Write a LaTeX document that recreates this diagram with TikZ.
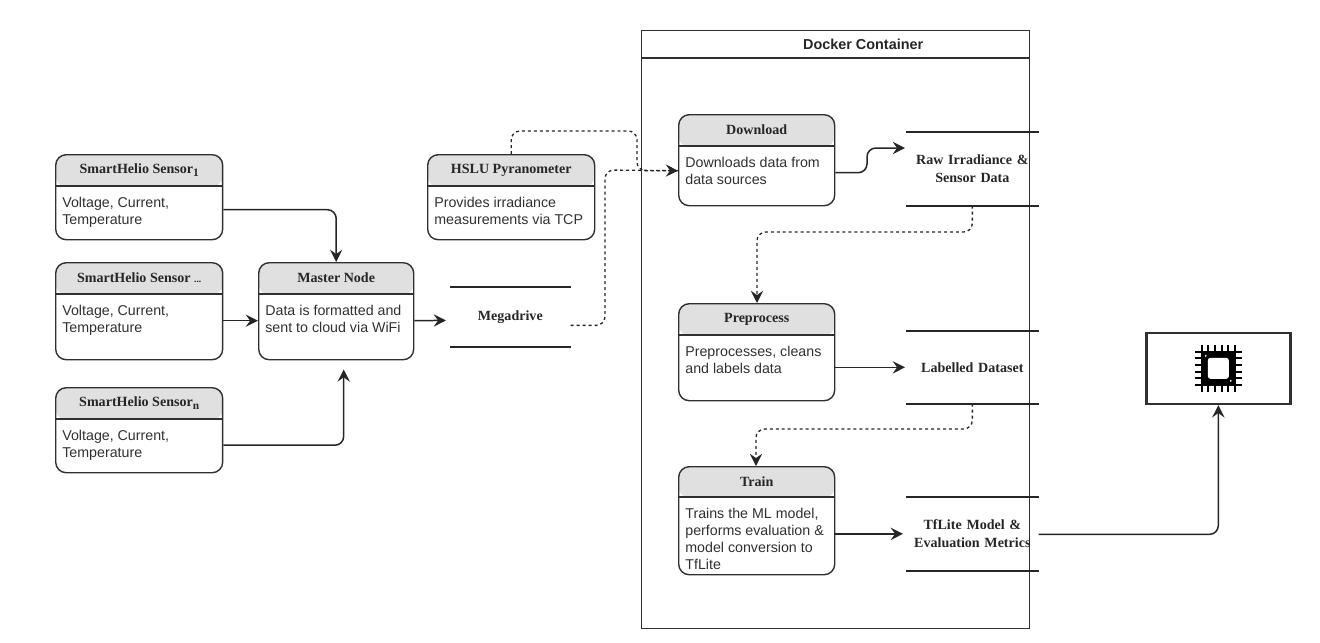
\documentclass[tikz,border=0pt]{standalone}
\usepackage{fontspec}
\setmainfont{Liberation Serif}
\newfontfamily\bodyfont{Liberation Sans}
\usetikzlibrary{arrows.meta,positioning}

\definecolor{headgray}{HTML}{E0E0E0}
\definecolor{inkgray}{HTML}{303030}

\tikzset{
  statebox/.style={draw=inkgray, line width=0.8pt, rounded corners=6pt, anchor=north west, inner sep=0pt},
  statetitle/.style={font=\bfseries\fontsize{8}{9}\selectfont, text=black!85, inner sep=0pt},
  statetext/.style={font=\bodyfont\fontsize{8.1}{9.7}\selectfont, text=inkgray, align=left, anchor=north west, inner sep=0pt},
  store/.style={anchor=north west, inner sep=0pt, align=center, font=\bfseries\fontsize{8}{10.2}\selectfont, text=black!85},
  storeline/.style={draw=black!85, line width=1pt},
  flow/.style={draw=black!85, line width=0.85pt, rounded corners=5pt, -{Stealth[length=7pt,width=7pt,inset=2.5pt]}},
  dflow/.style={flow, dash pattern=on 1.7pt off 1.7pt, line width=0.75pt}
}

\newcommand{\subidx}[1]{\raisebox{-2pt}{\fontsize{6.5}{7}\selectfont #1}}

% name, left, top, width, height, header height, title, text
\newcommand{\statenode}[8]{
  \node (#1) [statebox, minimum width=#4*\s cm, minimum height=#5*\s cm,
    path picture={\fill [headgray] (path picture bounding box.north west) rectangle
      ([yshift=-#6*\s cm]path picture bounding box.north east);}] at (#2*\s, -#3*\s) {};
  \draw [inkgray, line width=0.8pt] ([yshift=-#6*\s cm]#1.north west) -- ([yshift=-#6*\s cm]#1.north east);
  \node (#1-title) [statetitle] at ([yshift=-#6*\s*0.5 cm]#1.north) {#7};
  \node (#1-text) [statetext] at ([xshift=7*\s cm, yshift=-#6*\s cm - 10.5*\s cm]#1.north west) {#8};
}

% name, left, top, width, height, text
\newcommand{\storenode}[6]{
  \node (#1) [store, minimum width=#4*\s cm, minimum height=#5*\s cm, text width=#4*\s cm] at (#2*\s, -#3*\s) {#6};
  \draw [storeline] (#1.north west) -- (#1.north east);
  \draw [storeline] (#1.south west) -- (#1.south east);
}

\begin{document}
\begin{tikzpicture}

\def\s{0.02}

\useasboundingbox (0,0) rectangle (1320*\s, -642*\s);

% docker frame
\node (docker) [draw=inkgray, line width=0.8pt, anchor=north west, inner sep=0pt,
  minimum width=388*\s cm, minimum height=598*\s cm] at (641*\s, -30*\s) {};
\draw [inkgray, line width=0.8pt] ([yshift=-28*\s cm]docker.north west) -- ([yshift=-28*\s cm]docker.north east);
\node (docker-title) [font=\bodyfont\bfseries\fontsize{8.2}{9}\selectfont, text=black!85, inner sep=0pt]
  at ([xshift=27.5*\s cm, yshift=-14.5*\s cm]docker.north) {Docker Container};

% sensors
\statenode{sensorA}{55}{154}{167}{85}{32}{SmartHelio Sensor\subidx{1}}{Voltage, Current,\\Temperature}
\statenode{sensorB}{55}{262}{167}{97}{32}{SmartHelio Sensor {\fontsize{5.5}{6}\selectfont ...}}{Voltage, Current,\\Temperature}
\statenode{sensorN}{55}{387}{167}{85}{32}{SmartHelio Sensor\subidx{n}}{Voltage, Current,\\Temperature}
\statenode{master}{258}{262}{155}{97}{32}{Master Node}{Data is formatted and\\sent to cloud via WiFi}
\statenode{hslu}{427}{154}{167}{85}{32}{HSLU Pyranometer}{Provides irradiance\\measurements via TCP}

% docker steps
\statenode{download}{678}{114}{156}{91}{32}{Download}{Downloads data from\\data sources}
\statenode{preprocess}{678}{303}{156}{97}{32}{Preprocess}{Preprocesses, cleans\\and labels data}
\statenode{train}{678}{466}{156}{108}{31}{Train}{Trains the ML model,\\performs evaluation \&\\model conversion to\\TfLite}

% data stores
\storenode{mega}{450}{287}{120}{59}{Megadrive}
\storenode{raw}{906}{132}{132}{73}{Raw Irradiance \&\\Sensor Data}
\storenode{labelled}{906}{331}{132}{72}{Labelled Dataset}
\storenode{tflite}{906}{497}{132}{73}{TfLite Model \&\\Evaluation Metrics}

% chip
\node (board) [draw=inkgray, line width=1.5pt, anchor=north west, inner sep=0pt,
  minimum width=144*\s cm, minimum height=71*\s cm] at (1145*\s, -331.5*\s) {};
\begin{scope}[shift={(board.center)}]
  \foreach \i in {-2.5,-1.5,...,2.5} {
    \draw [black, line width=1.1pt] (\i*6.6*\s, -23.5*\s) -- (\i*6.6*\s, 23.5*\s);
    \draw [black, line width=1.1pt] (-23.5*\s, \i*6.6*\s) -- (23.5*\s, \i*6.6*\s);
  }
  \fill [black, rounded corners=1pt] (-17*\s, -17*\s) rectangle (17*\s, 17*\s);
  \fill [white, rounded corners=1.5pt] (-10.5*\s, -10.5*\s) rectangle (10.5*\s, 10.5*\s);
  \fill [white] (-12.5*\s, 12.5*\s) circle (1*\s);
  \fill [white] (12.5*\s, -12.5*\s) circle (1*\s);
\end{scope}

% connectors
\draw [flow] ([yshift=-12.5*\s cm]sensorA.east) -| (master.north);
\draw [flow] ([yshift=-9.5*\s cm]sensorB.east) -- ([yshift=-9.5*\s cm]master.west);
\coordinate (masterIn) at ([xshift=7.5*\s cm, yshift=-9*\s cm]master.south);
\draw [flow] ([yshift=-15*\s cm]sensorN.east) -| (masterIn);
\coordinate (megaIn) at ([xshift=-4*\s cm, yshift=-3.5*\s cm]mega.west);
\draw [flow] ([yshift=-9.5*\s cm]master.east) -- (megaIn);

\coordinate (hsluUp) at (637*\s, -131*\s);
\coordinate (downIn) at ([yshift=-10.5*\s cm]download.west);
\draw [dflow, -] (hslu.north) |- (hsluUp) |- (downIn);
\coordinate (megaUp) at (605*\s, -170*\s);
\draw [dflow] ([yshift=-8.5*\s cm]mega.east) -| (megaUp) -- (downIn);

\coordinate (rawIn) at (905*\s, -148*\s);
\draw [flow] ([yshift=-12.5*\s cm]download.east) -| (867*\s, -148*\s) -- (rawIn);
\coordinate (preBend) at (757*\s, -232*\s);
\draw [dflow] (raw.south) |- (preBend) -- (preprocess.north -| preBend);

\coordinate (labIn) at ([xshift=-1*\s cm]labelled.west);
\draw [flow] (preprocess.east |- labIn) -- (labIn);
\coordinate (trainBend) at (756*\s, -429*\s);
\draw [dflow] (labelled.south) |- (trainBend) -- (train.north -| trainBend);

\coordinate (tfIn) at ([xshift=-3*\s cm]tflite.west);
\draw [flow] (train.east |- tfIn) -- (tfIn);
\draw [flow] ([yshift=-0.5*\s cm]tflite.east) -| (board.south);

\end{tikzpicture}
\end{document}
